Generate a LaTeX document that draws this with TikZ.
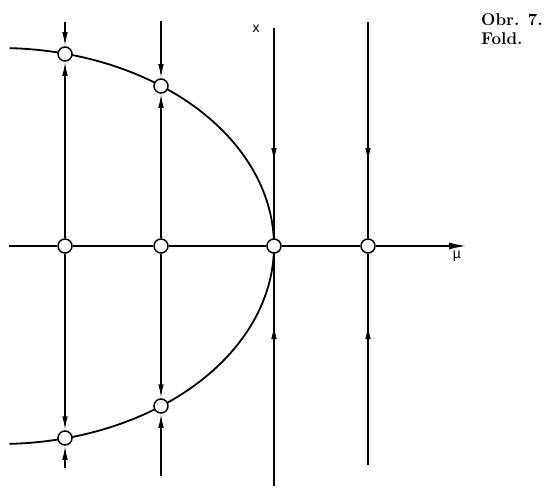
\documentclass[tikz,border=0pt]{standalone}
\usepackage{fontspec}
\newfontfamily\labfont{Liberation Sans}
\usetikzlibrary{arrows.meta}
\begin{document}
\begin{tikzpicture}[x=1pt,y=-1pt,
  flow/.style={line width=1.5pt},
  tipin/.style={-{Latex[length=14pt,width=5.5pt]}},
  axtip/.style={-{Latex[length=17pt,width=7pt]}},
  fixpt/.style={circle,draw,fill=white,line width=1.5pt,minimum size=14pt,inner sep=0pt},
  lab/.style={font=\labfont\fontsize{14}{14}\selectfont,inner sep=0pt},
  captext/.style={font=\bfseries\fontsize{17}{19}\selectfont,anchor=base west,inner sep=0pt}]
\useasboundingbox (0,0) rectangle (551,487);

% fold curve
\draw[line width=1.8pt] plot[domain=88:-88, samples=90, smooth] ({274*cos(\x)},{246-198*sin(\x)});

% fixed points
\node[fixpt] (a1) at (65,54) {};
\node[fixpt] (a2) at (65,246) {};
\node[fixpt] (a3) at (65,438) {};
\node[fixpt] (b1) at (161,86) {};
\node[fixpt] (b2) at (161,246) {};
\node[fixpt] (b3) at (161,406) {};
\node[fixpt] (c) at (274,246) {};
\node[fixpt] (d) at (368,246) {};

% ends of flow lines
\coordinate (a0) at (65,22);  \coordinate (a4) at (65,468);
\coordinate (b0) at (161,21); \coordinate (b4) at (161,476);
\coordinate (c0) at (274,28); \coordinate (c4) at (274,486);
\coordinate (cd) at (274,162); \coordinate (cu) at (274,325);
\coordinate (d0) at (368,22); \coordinate (d4) at (368,465);
\coordinate (dd) at (368,162); \coordinate (du) at (368,325);
\coordinate (axL) at (9,246); \coordinate (axR) at (466,246);

% axis mu
\draw[flow] (axL) -- (a2);
\draw[flow] (a2) -- (b2);
\draw[flow] (b2) -- (c);
\draw[flow] (c) -- (d);
\draw[flow,axtip] (d) -- (axR);

% line a
\draw[flow,tipin] (a0) -- (a1);
\draw[flow,tipin] (a2) -- (a1);
\draw[flow,tipin] (a2) -- (a3);
\draw[flow,tipin] (a4) -- (a3);
% line b
\draw[flow,tipin] (b0) -- (b1);
\draw[flow,tipin] (b2) -- (b1);
\draw[flow,tipin] (b2) -- (b3);
\draw[flow,tipin] (b4) -- (b3);
% line c
\draw[flow] (c0) -- (c);
\draw[flow,tipin] (c0) -- (cd);
\draw[flow] (c4) -- (c);
\draw[flow,tipin] (c4) -- (cu);
% line d
\draw[flow] (d0) -- (d);
\draw[flow,tipin] (d0) -- (dd);
\draw[flow] (d4) -- (d);
\draw[flow,tipin] (d4) -- (du);

% labels
\node[lab] (xl) at (256,29) {x};
\node[lab] (mul) at (457,256) {µ};
\node[captext] (cap1) at (481,26) {Obr. 7.};
\node[captext] (cap2) at (481,45) {Fold.};
\end{tikzpicture}
\end{document}
